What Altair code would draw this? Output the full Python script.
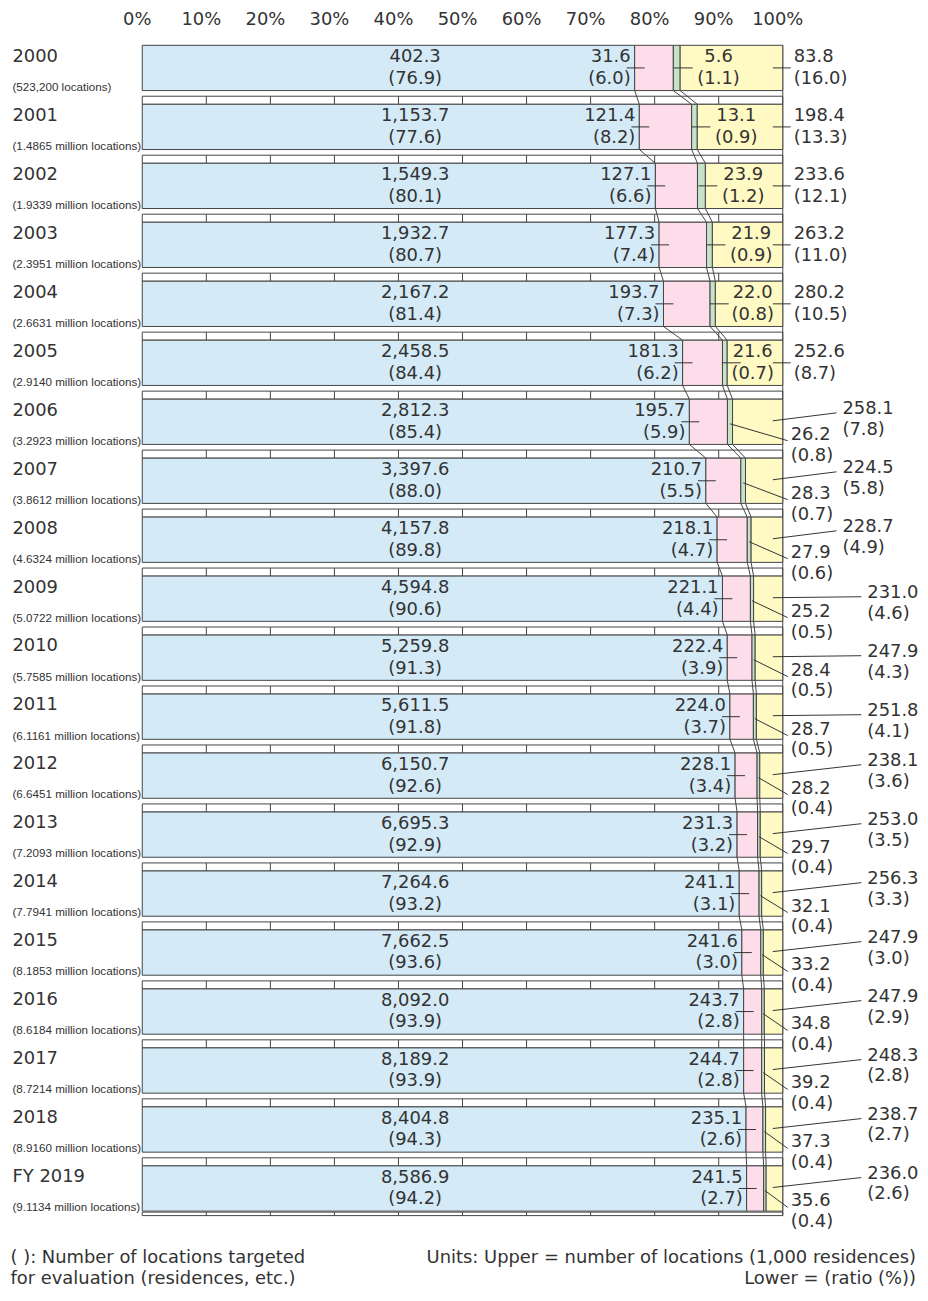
import altair as alt
import pandas as pd

# ---------------- data ----------------
years = ["2000", "2001", "2002", "2003", "2004", "2005", "2006", "2007", "2008", "2009",
         "2010", "2011", "2012", "2013", "2014", "2015", "2016", "2017", "2018", "FY 2019"]
targets = ["(523,200 locations)", "(1.4865 million locations)", "(1.9339 million locations)",
           "(2.3951 million locations)", "(2.6631 million locations)", "(2.9140 million locations)",
           "(3.2923 million locations)", "(3.8612 million locations)", "(4.6324 million locations)",
           "(5.0722 million locations)", "(5.7585 million locations)", "(6.1161 million locations)",
           "(6.6451 million locations)", "(7.2093 million locations)", "(7.7941 million locations)",
           "(8.1853 million locations)", "(8.6184 million locations)", "(8.7214 million locations)",
           "(8.9160 million locations)", "(9.1134 million locations)"]
blue_val = [402.3, 1153.7, 1549.3, 1932.7, 2167.2, 2458.5, 2812.3, 3397.6, 4157.8, 4594.8,
            5259.8, 5611.5, 6150.7, 6695.3, 7264.6, 7662.5, 8092.0, 8189.2, 8404.8, 8586.9]
blue_pct = [76.9, 77.6, 80.1, 80.7, 81.4, 84.4, 85.4, 88.0, 89.8, 90.6,
            91.3, 91.8, 92.6, 92.9, 93.2, 93.6, 93.9, 93.9, 94.3, 94.2]
pink_val = [31.6, 121.4, 127.1, 177.3, 193.7, 181.3, 195.7, 210.7, 218.1, 221.1,
            222.4, 224.0, 228.1, 231.3, 241.1, 241.6, 243.7, 244.7, 235.1, 241.5]
pink_pct = [6.0, 8.2, 6.6, 7.4, 7.3, 6.2, 5.9, 5.5, 4.7, 4.4,
            3.9, 3.7, 3.4, 3.2, 3.1, 3.0, 2.8, 2.8, 2.6, 2.7]
green_val = [5.6, 13.1, 23.9, 21.9, 22.0, 21.6, 26.2, 28.3, 27.9, 25.2,
             28.4, 28.7, 28.2, 29.7, 32.1, 33.2, 34.8, 39.2, 37.3, 35.6]
green_pct = [1.1, 0.9, 1.2, 0.9, 0.8, 0.7, 0.8, 0.7, 0.6, 0.5,
             0.5, 0.5, 0.4, 0.4, 0.4, 0.4, 0.4, 0.4, 0.4, 0.4]
yellow_val = [83.8, 198.4, 233.6, 263.2, 280.2, 252.6, 258.1, 224.5, 228.7, 231.0,
              247.9, 251.8, 238.1, 253.0, 256.3, 247.9, 247.9, 248.3, 238.7, 236.0]
yellow_pct = [16.0, 13.3, 12.1, 11.0, 10.5, 8.7, 7.8, 5.8, 4.9, 4.6,
              4.3, 4.1, 3.6, 3.5, 3.3, 3.0, 2.9, 2.8, 2.7, 2.6]
x_ticks = list(range(0, 101, 10))
note_left = ["( ): Number of locations targeted", "for evaluation (residences, etc.)"]
note_right = ["Units: Upper = number of locations (1,000 residences)", "Lower = (ratio (%))"]

cats = ["blue", "pink", "green", "yellow"]
colors = ["#d4eaf7", "#fcdde9", "#c4e3c9", "#fff9c3"]

# ---------------- layout helpers ----------------
P = 59.3          # px per row
SX = 6.44         # px per percent
BH = 45.5 / P     # bar thickness in rows
C = BH / 2
n = len(years)
YMAX = n - 1 + BH + 4.5 / P
INK = "#333333"
LINE = "#444444"


def ry(px):
    return px / P


def rx(px):
    return px / SX


def fmt(v):
    return f"{v:,.1f}"


def pfmt(v):
    return f"({v:.1f})"


bars, strips, grid, series, leaders = [], [], [], [], []
t_left, t_center, t_right, t_narrow = [], [], [], []
bounds = []
for i in range(n):
    vals = [blue_val[i], pink_val[i], green_val[i], yellow_val[i]]
    tot = sum(vals)
    cum, b = 0.0, [0.0]
    for v in vals:
        cum += v
        b.append(cum / tot * 100)
    bounds.append(b)
    for k in range(4):
        bars.append(dict(x=b[k], x2=b[k + 1], y=i, y2=i + BH, cat=cats[k]))
    # strip below the bar
    if i < n - 1:
        top, bot = i + BH + ry(5.7), i + 1
    else:
        top, bot = i + BH + ry(1.0), YMAX
    strips.append(dict(x=0, x2=100, y=top, y2=bot))
    for t in x_ticks[1:-1]:
        grid.append(dict(x=t, y=top, y2=bot))

    c = i + C
    # year labels
    t_left.append(dict(x=rx(-130.5), y=i + ry(11.5), t=years[i]))
    t_narrow.append(dict(x=rx(-130.5), y=i + ry(41.7), t=targets[i]))
    # blue
    t_center.append(dict(x=42.6, y=c + ry(-10.5), t=fmt(blue_val[i])))
    t_center.append(dict(x=42.6, y=c + ry(11), t=pfmt(blue_pct[i])))
    # pink
    b1, b2, b3 = b[1], b[2], b[3]
    t_right.append(dict(x=b1 + rx(-4), y=c + ry(-10.5), t=fmt(pink_val[i])))
    t_right.append(dict(x=b1 + rx(-4), y=c + ry(11), t=pfmt(pink_pct[i])))
    leaders.append(dict(x=b1 + rx(-8), y=c, x2=b1 + rx(10), y2=c))
    gm = (b2 + b3) / 2
    if i <= 5:
        gx = min(gm + rx(42), 95.3)
        t_center.append(dict(x=gx, y=c + ry(-10.5), t=fmt(green_val[i])))
        t_center.append(dict(x=gx, y=c + ry(11), t=pfmt(green_pct[i])))
        leaders.append(dict(x=gm - rx(3), y=c, x2=gm + rx(16), y2=c))
        t_left.append(dict(x=100 + rx(11), y=c + ry(-10.5), t=fmt(yellow_val[i])))
        t_left.append(dict(x=100 + rx(11), y=c + ry(11), t=pfmt(yellow_pct[i])))
        leaders.append(dict(x=100 - rx(10), y=c, x2=100 + rx(8), y2=c))
    else:
        t_left.append(dict(x=100 + rx(8), y=c + ry(13), t=fmt(green_val[i])))
        t_left.append(dict(x=100 + rx(8), y=c + ry(34), t=pfmt(green_pct[i])))
        leaders.append(dict(x=gm, y=c + ry(2), x2=100 + rx(5), y2=c + ry(19)))
        if i <= 8:
            xo, dv = 60, -13
        elif i <= 11:
            xo, dv = 85, -6
        else:
            xo, dv = 85, -15
        t_left.append(dict(x=100 + rx(xo), y=c + ry(dv), t=fmt(yellow_val[i])))
        t_left.append(dict(x=100 + rx(xo), y=c + ry(dv + 21), t=pfmt(yellow_pct[i])))
        leaders.append(dict(x=100 - rx(10), y=c + ry(-1), x2=100 + rx(xo - 6), y2=c + ry(dv + 4)))

for i in range(n - 1):
    for k in (1, 2, 3):
        series.append(dict(x=bounds[i][k], y=i + BH, x2=bounds[i + 1][k], y2=i + 1))

# top percentage labels
t_axis = [dict(x=t - rx(5), y=ry(-25), t=f"{t}%") for t in x_ticks]

# footnotes (below the plot)
fy1 = YMAX + ry(43)
fy2 = YMAX + ry(64)
t_foot_l = [dict(x=rx(-132.5), y=fy1, t=note_left[0]), dict(x=rx(-132.5), y=fy2, t=note_left[1])]
t_foot_r = [dict(x=100 + rx(134), y=fy1, t=note_right[0]), dict(x=100 + rx(134), y=fy2, t=note_right[1])]

# ---------------- chart ----------------
xs = alt.Scale(domain=[0, 100], nice=False, zero=False)
ys = alt.Scale(domain=[0, YMAX], nice=False, zero=False, reverse=True)


def X(f="x"):
    return alt.X(f"{f}:Q", scale=xs, axis=None)


def Y(f="y"):
    return alt.Y(f"{f}:Q", scale=ys, axis=None)


strip_layer = alt.Chart(pd.DataFrame(strips)).mark_rect(
    fill="white", stroke=LINE, strokeWidth=1
).encode(x=X(), x2="x2:Q", y=Y(), y2="y2:Q")

grid_layer = alt.Chart(pd.DataFrame(grid)).mark_rule(color=LINE, strokeWidth=1).encode(
    x=X(), y=Y(), y2="y2:Q")

border_layer = alt.Chart(pd.DataFrame([dict(x=100, y=0, y2=YMAX)])).mark_rule(
    color=LINE, strokeWidth=1).encode(x=X(), y=Y(), y2="y2:Q")

series_layer = alt.Chart(pd.DataFrame(series)).mark_rule(color=LINE, strokeWidth=1).encode(
    x=X(), y=Y(), x2="x2:Q", y2="y2:Q")

bar_layer = alt.Chart(pd.DataFrame(bars)).mark_rect(stroke=LINE, strokeWidth=1).encode(
    x=X(), x2="x2:Q", y=Y(), y2="y2:Q",
    fill=alt.Fill("cat:N", scale=alt.Scale(domain=cats, range=colors), legend=None))

leader_layer = alt.Chart(pd.DataFrame(leaders)).mark_rule(color=INK, strokeWidth=1).encode(
    x=X(), y=Y(), x2="x2:Q", y2="y2:Q")


def text_layer(rows, align, font="DejaVu Sans", size=18):
    return alt.Chart(pd.DataFrame(rows)).mark_text(
        align=align, baseline="middle", font=font, fontSize=size, color=INK
    ).encode(x=X(), y=Y(), text="t:N")


chart = alt.layer(
    strip_layer, grid_layer, border_layer, series_layer, bar_layer, leader_layer,
    text_layer(t_axis, "center"),
    text_layer(t_left, "left"),
    text_layer(t_center, "center"),
    text_layer(t_right, "right"),
    text_layer(t_narrow, "left", font="Liberation Sans", size=11.7),
    text_layer(t_foot_l, "left", size=18),
    text_layer(t_foot_r, "right", size=18),
).properties(
    width=644, height=YMAX * P,
    padding={"left": 135, "top": 34, "right": 138, "bottom": 74},
    autosize=alt.AutoSizeParams(type="none"),
).configure_view(stroke=None)

chart.save("out.html", embed_options={"renderer": "svg", "actions": False})
